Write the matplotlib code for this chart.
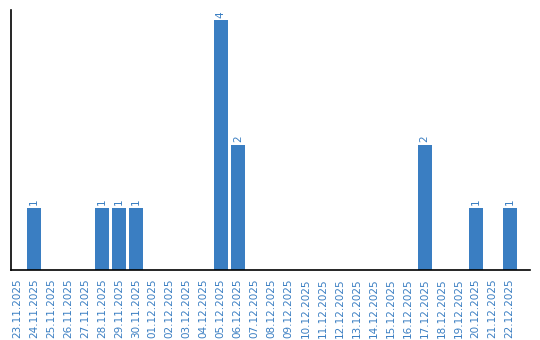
import matplotlib
matplotlib.use("Agg")
import matplotlib.pyplot as plt

dates = ["23.11.2025", "24.11.2025", "25.11.2025", "26.11.2025", "27.11.2025",
         "28.11.2025", "29.11.2025", "30.11.2025", "01.12.2025", "02.12.2025",
         "03.12.2025", "04.12.2025", "05.12.2025", "06.12.2025", "07.12.2025",
         "08.12.2025", "09.12.2025", "10.12.2025", "11.12.2025", "12.12.2025",
         "13.12.2025", "14.12.2025", "15.12.2025", "16.12.2025", "17.12.2025",
         "18.12.2025", "19.12.2025", "20.12.2025", "21.12.2025", "22.12.2025"]
counts = [0, 1, 0, 0, 0, 1, 1, 1, 0, 0, 0, 0, 4, 2, 0,
          0, 0, 0, 0, 0, 0, 0, 0, 0, 2, 0, 0, 1, 0, 1]

blue = "#3a7ec2"

fig = plt.figure(figsize=(5.4, 3.4), dpi=100)
ax = fig.add_axes([11/540, 1 - 270/340, (530 - 11)/540, (270 - 10)/340])

x = list(range(len(dates)))
ax.bar(x, counts, width=0.82, color=blue)
for xi, c in zip(x, counts):
    if c > 0:
        ax.text(xi, c + 0.04, str(c), rotation=90, ha="center", va="bottom",
                color=blue, fontsize=7.5)

ax.set_xlim(-0.35, 30.2)
ax.set_ylim(0, 4.16)
ax.set_xticks(x)
ax.set_xticklabels(dates, rotation=90, color=blue, fontsize=7.5)
ax.tick_params(axis="x", length=0, pad=6)
ax.set_yticks([])
for s in ["top", "right"]:
    ax.spines[s].set_visible(False)
for s in ["left", "bottom"]:
    ax.spines[s].set_linewidth(1.2)
    ax.spines[s].set_color("black")

fig.savefig("out.png", dpi=100)
